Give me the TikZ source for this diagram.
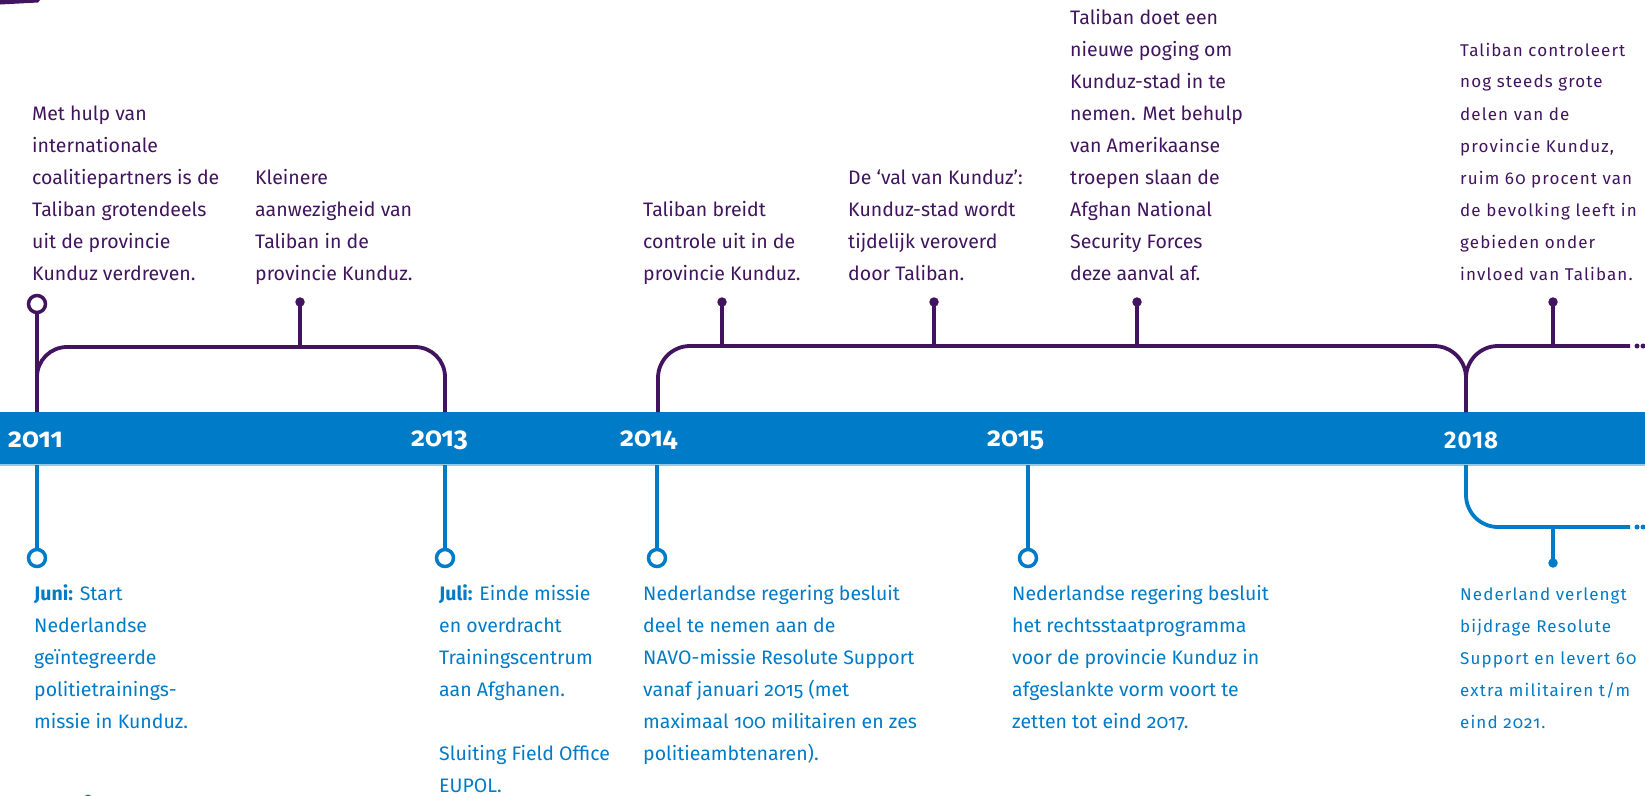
\documentclass[tikz,border=0pt]{standalone}
\usepackage{fontspec}
\setmainfont{Fira Sans}[Numbers=OldStyle]
\newfontfamily\widefont{Fira Sans}[Numbers=OldStyle, LetterSpace=6.5]
\newfontfamily\yearwide{Fira Sans}[LetterSpace=4]
\definecolor{rvpurple}{HTML}{42145F}
\definecolor{rvblue}{HTML}{007BC7}
\definecolor{rvlight}{HTML}{8FCAE7}
\newcommand{\tblock}[2]{\parbox[t]{#1pt}{\raggedright\fontsize{19.5}{32}\selectfont #2}}
\newcommand{\wblock}[2]{\parbox[t]{#1pt}{\raggedright\widefont\fontsize{17}{32}\selectfont #2}}
\begin{document}
\begin{tikzpicture}[x=1pt,y=-1pt,
  purp/.style={draw=rvpurple, line width=3.8pt},
  blu/.style={draw=rvblue, line width=3.8pt},
  ring/.style={circle, draw, line width=3.5pt, fill=white, minimum size=17pt, inner sep=0pt},
  tipdot/.style={circle, fill, inner sep=0pt, minimum size=9.5pt},
  enddot/.style={circle, fill, inner sep=0pt, minimum size=5pt},
  txt/.style={anchor=base west, inner sep=0pt},
  year/.style={anchor=west, text=white, inner sep=0pt, font=\bfseries\fontsize{27}{27}\selectfont}]
\useasboundingbox (0,0) rectangle (1645,795);
\begin{scope}
\clip (0,0) rectangle (1645,795);
% stray cut-off marks at the picture edges
\fill[rvpurple] (0,0) -- (40,0) -- (38,2.5) -- (0,4.5) -- cycle;
\fill[rvblue] (88,800) circle (5.5);
% band
\fill[rvblue] (0,412) rectangle (1645,465);
\draw[rvlight, line width=1.5pt] (0,465) -- (1645,465);
\end{scope}
% coordinates on the band
\coordinate (t11) at (37,412);
\coordinate (t13) at (445,412);
\coordinate (t14) at (658,412);
\coordinate (t18) at (1466,412);
\coordinate (b11) at (37,465);
\coordinate (b13) at (445,465);
\coordinate (b14) at (657,465);
\coordinate (b15) at (1028,465);
\coordinate (b18) at (1466,465);
% years
\node[year] (y11) at (8,440) {2011};
\node[year] (y13) at (411,440) {2013};
\node[year] (y14) at (620,440) {2014};
\node[year] (y15) at (987,440) {2015};
\node[year, font=\yearwide\bfseries\fontsize{24}{24}\selectfont] (y18) at (1444,440) {2018};
% purple brackets
\draw[purp, rounded corners=30pt] (t11) -- (37,347) -- (445,347) -- (t13);
\draw[purp, rounded corners=32pt] (t14) -- (658,346) -- (1466,346) -- (t18);
\draw[purp, rounded corners=32pt] (t18) -- (1466,346) -- (1630,346) coordinate (pe);
\node[enddot, fill=rvpurple] (pd1) at (1637,346) {};
\node[enddot, fill=rvpurple] (pd2) at (1643,346) {};
% purple top markers
\node[ring, draw=rvpurple] (r11) at (37,304) {};
\draw[purp] (t11) -- (r11);
\node[tipdot, fill=rvpurple] (d1) at (300,302) {};
\node[tipdot, fill=rvpurple] (d2) at (722,302) {};
\node[tipdot, fill=rvpurple] (d3) at (934,302) {};
\node[tipdot, fill=rvpurple] (d4) at (1137,302) {};
\node[tipdot, fill=rvpurple] (d5) at (1553,302) {};
\draw[purp] (300,347) -- (d1.center);
\draw[purp] (722,346) -- (d2.center);
\draw[purp] (934,346) -- (d3.center);
\draw[purp] (1137,346) -- (d4.center);
\draw[purp] (1553,346) -- (d5.center);
% blue bottom markers
\node[ring, draw=rvblue] (r1) at (37,558) {};
\node[ring, draw=rvblue] (r2) at (445,558) {};
\node[ring, draw=rvblue] (r3) at (657,558) {};
\node[ring, draw=rvblue] (r4) at (1028,558) {};
\draw[blu] (b11) -- (r1);
\draw[blu] (b13) -- (r2);
\draw[blu] (b14) -- (r3);
\draw[blu] (b15) -- (r4);
\draw[blu, rounded corners=32pt] (b18) -- (1466,527) -- (1630,527) coordinate (be);
\node[enddot, fill=rvblue] (bd1) at (1637,527) {};
\node[enddot, fill=rvblue] (bd2) at (1643,527) {};
\node[tipdot, fill=rvblue] (d6) at (1553,563) {};
\draw[blu] (1553,527) -- (d6.center);
% top texts
\node[txt, text=rvpurple] (n1) at (32,120) {\tblock{220}{Met hulp van\\internationale\\coalitiepartners is de\\Taliban grotendeels\\uit de provincie\\Kunduz verdreven.}};
\node[txt, text=rvpurple] (n2) at (255,184) {\tblock{200}{Kleinere\\aanwezigheid van\\Taliban in de\\provincie Kunduz.}};
\node[txt, text=rvpurple] (n3) at (643,216) {\tblock{200}{Taliban breidt\\controle uit in de\\provincie Kunduz.}};
\node[txt, text=rvpurple] (n4) at (848,184) {\tblock{200}{De ‘val van Kunduz’:\\Kunduz-stad wordt\\tijdelijk veroverd\\door Taliban.}};
\node[txt, text=rvpurple] (n5) at (1070,24) {\tblock{200}{Taliban doet een\\nieuwe poging om\\Kunduz-stad in te\\nemen. Met behulp\\van Amerikaanse\\troepen slaan de\\Afghan National\\Security Forces\\deze aanval af.}};
\node[txt, text=rvpurple] (n6) at (1460,56) {\wblock{200}{Taliban controleert\\nog steeds grote\\delen van de\\provincie Kunduz,\\ruim 60 procent van\\de bevolking leeft in\\gebieden onder\\invloed van Taliban.}};
% bottom texts
\node[txt, text=rvblue] (m1) at (34,600) {\tblock{220}{\textbf{Juni:} Start\\Nederlandse\\geïntegreerde\\politietrainings-\\missie in Kunduz.}};
\node[txt, text=rvblue] (m2) at (439,600) {\tblock{200}{\textbf{Juli:} Einde missie\\en overdracht\\Trainingscentrum\\aan Afghanen.\\[32pt]Sluiting Field Office\\EUPOL.}};
\node[txt, text=rvblue] (m3) at (643,600) {\tblock{300}{Nederlandse regering besluit\\deel te nemen aan de\\NAVO-missie Resolute Support\\vanaf januari 2015 (met\\maximaal 100 militairen en zes\\politieambtenaren).}};
\node[txt, text=rvblue] (m4) at (1012,600) {\tblock{300}{Nederlandse regering besluit\\het rechtsstaatprogramma\\voor de provincie Kunduz in\\afgeslankte vorm voort te\\zetten tot eind 2017.}};
\node[txt, text=rvblue] (m5) at (1460,600) {\wblock{200}{Nederland verlengt\\bijdrage Resolute\\Support en levert 60\\extra militairen t/m\\eind 2021.}};
\end{tikzpicture}
\end{document}
